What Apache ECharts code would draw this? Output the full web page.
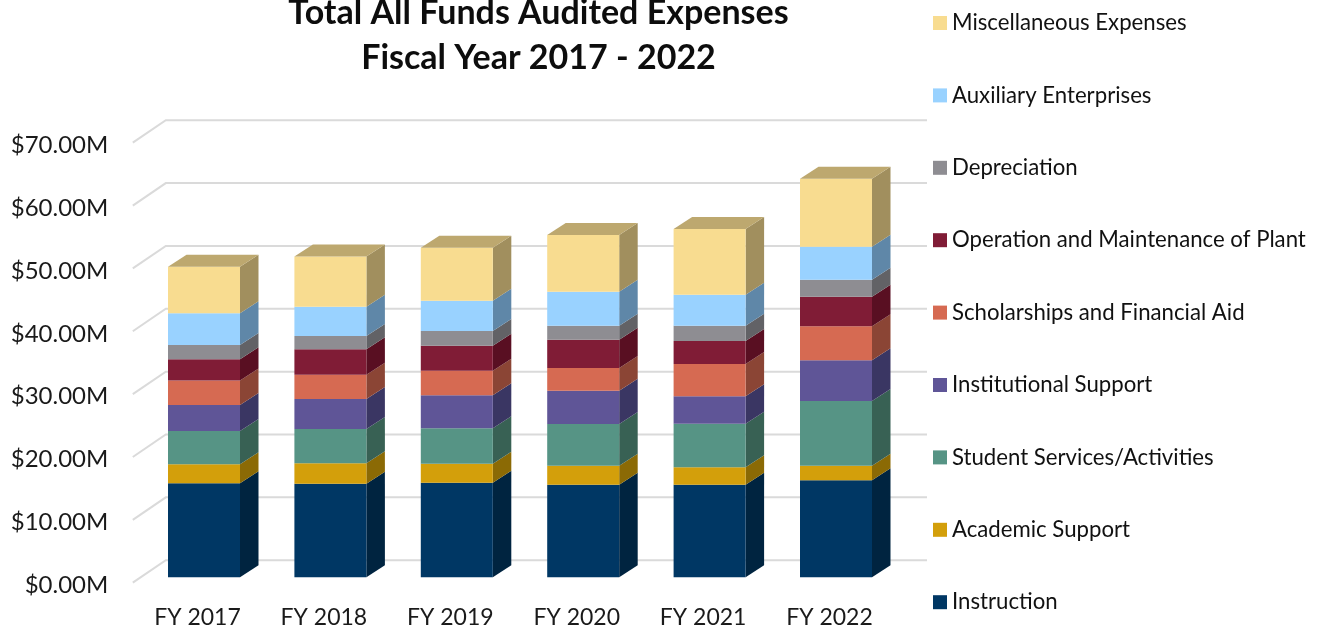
<!DOCTYPE html>
<html>
<head>
<meta charset="utf-8">
<style>html,body{margin:0;padding:0;background:#fff}#c{width:1322px;height:626px}</style>
<script src="https://cdn.jsdelivr.net/npm/echarts@6/dist/echarts.min.js"></script>
</head>
<body>
<div id="c"></div>
<script>
const categories = ['FY 2017','FY 2018','FY 2019','FY 2020','FY 2021','FY 2022'];
const yTicks = [0,10,20,30,40,50,60,70];
const seriesNames = ['Instruction','Academic Support','Student Services/Activities','Institutional Support','Scholarships and Financial Aid','Operation and Maintenance of Plant','Depreciation','Auxiliary Enterprises','Miscellaneous Expenses'];
const instruction   = [14.96,14.89,15.05,14.73,14.73,15.43];
const academic      = [3.02,3.25,3.02,3.02,2.77,2.32];
const student       = [5.30,5.46,5.63,6.63,6.94,10.29];
const institutional = [4.14,4.77,5.25,5.30,4.36,6.48];
const scholarships  = [3.87,3.87,3.91,3.61,5.14,5.41];
const operation     = [3.40,4.04,3.98,4.50,3.66,4.71];
const depreciation  = [2.28,2.12,2.34,2.23,2.43,2.70];
const auxiliary     = [5.04,4.66,4.82,5.41,4.93,5.25];
const miscellaneous = [7.41,7.96,8.43,9.02,10.45,10.82];
const allValues = [instruction,academic,student,institutional,scholarships,operation,depreciation,auxiliary,miscellaneous];
const frontColors = ['#003764','#D39F0B','#569485','#5F5597','#D66A52','#801C36','#8E8D92','#99D2FF','#F8DC90'];
const sideColors  = ['#002440','#8B6A05','#386154','#3A3663','#8B4535','#590F22','#626266','#5F87A8','#A18F5E'];
const topColor = '#BDA86F';

const FONT = 'Lato';
const BAR_W = 72, DEPTH_X = 18.5, DEPTH_Y = -12, BAR_DX = 6.5, BAR_DY = -5.4;
const WALL_DX = 33, WALL_DY = -22.5, WALL_RIGHT = 927;

const running = categories.map(() => 0);
const barSeries = allValues.map((vals, s) => {
  const data = vals.map((v, i) => { const b = running[i]; running[i] += v; return [i, b, running[i]]; });
  return {
    type: 'custom', name: seriesNames[s], z: 3 + s,
    itemStyle: { color: frontColors[s] },
    clip: false, silent: true,
    encode: { x: 0, y: [1, 2] },
    data,
    renderItem(params, api) {
      const a = api.coord([api.value(0), api.value(1)]);
      const b = api.coord([api.value(0), api.value(2)]);
      const l = a[0] + BAR_DX - BAR_W / 2, r = l + BAR_W;
      const y0 = a[1] + BAR_DY, y1 = b[1] + BAR_DY;
      const children = [
        { type: 'polygon', shape: { points: [[r,y0],[r+DEPTH_X,y0+DEPTH_Y],[r+DEPTH_X,y1+DEPTH_Y],[r,y1]] }, style: { fill: sideColors[s] } },
        { type: 'rect', shape: { x: l, y: y1, width: BAR_W, height: y0 - y1 }, style: { fill: frontColors[s] } }
      ];
      if (s === allValues.length - 1) {
        children.push({ type: 'polygon', shape: { points: [[l,y1],[l+DEPTH_X,y1+DEPTH_Y],[r+DEPTH_X,y1+DEPTH_Y],[r,y1]] }, style: { fill: topColor } });
      }
      return { type: 'group', children };
    }
  };
});

const wallSeries = {
  type: 'custom', name: 'grid', z: 1, silent: true, clip: false,
  data: yTicks.map(t => [0, t]),
  encode: { y: 1 },
  renderItem(params, api) {
    const p = api.coord([0, api.value(1)]);
    const x0 = params.coordSys.x;
    return {
      type: 'polyline',
      shape: { points: [[x0 - 1.5, p[1]], [x0 + WALL_DX - 1.5, p[1] + WALL_DY], [WALL_RIGHT, p[1] + WALL_DY]] },
      style: { stroke: '#DADADA', lineWidth: 2, fill: null }
    };
  }
};

const chart = echarts.init(document.getElementById('c'), null, { renderer: 'canvas' });
chart.setOption({
  animation: false,
  backgroundColor: '#fff',
  title: {
    text: 'Total All Funds Audited Expenses\nFiscal Year 2017 - 2022',
    left: 533.5, top: -14, textAlign: 'center',
    textStyle: { fontFamily: FONT, fontWeight: 'bold', fontSize: 34, lineHeight: 45, color: '#0d0d0d' }
  },
  legend: {
    orient: 'vertical', left: 928, top: 6, itemWidth: 14, itemHeight: 14, itemGap: 48.4,
    icon: 'rect',
    data: seriesNames.slice().reverse(),
    selectedMode: false,
    textStyle: { fontFamily: FONT, fontSize: 22.2, color: '#111', lineHeight: 24 }
  },
  grid: { left: 134.3, width: 758.4, top: 142.7, height: 440, outerBoundsMode: 'none' },
  xAxis: {
    type: 'category', data: categories,
    axisLine: { show: false }, axisTick: { show: false }, splitLine: { show: false },
    axisLabel: { fontFamily: FONT, fontSize: 23, color: '#1a1a1a', margin: 23 }
  },
  yAxis: {
    type: 'value', min: 0, max: 70, interval: 10,
    axisLine: { show: false }, axisTick: { show: false }, splitLine: { show: false },
    axisLabel: {
      margin: 26,
      formatter: v => '{t|$' + v.toFixed(2) + 'M}',
      rich: { t: { fontFamily: FONT, fontSize: 24, color: '#1a1a1a', lineHeight: 24, padding: [5, 0, 0, 0] } }
    }
  },
  series: [wallSeries].concat(barSeries)
});
</script>
</body>
</html>
